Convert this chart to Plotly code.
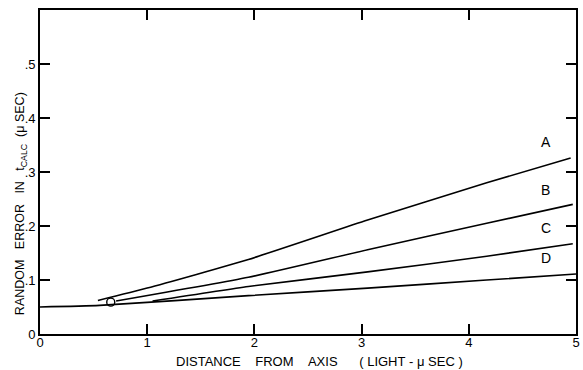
import plotly.graph_objects as go

# Curve data (distance from axis in light-µsec, random error in µsec)
A_x = [0.54, 1.0, 1.944, 3.056, 4.167, 4.95]
A_y = [0.062, 0.085, 0.138, 0.211, 0.280, 0.326]
B_x = [0.71, 1.944, 3.056, 4.167, 4.97]
B_y = [0.061, 0.105, 0.156, 0.205, 0.240]
C_x = [1.05, 1.944, 3.056, 4.167, 4.97]
C_y = [0.061, 0.088, 0.115, 0.144, 0.167]
D_x = [0.0, 0.556, 1.944, 3.056, 4.167, 5.0]
D_y = [0.050, 0.053, 0.071, 0.085, 0.100, 0.111]
circle_x = [0.66]
circle_y = [0.059]

labels = ["A", "B", "C", "D"]
label_x = [4.72, 4.72, 4.72, 4.72]
label_y = [0.337, 0.249, 0.178, 0.122]

x_ticks = [0, 1, 2, 3, 4, 5]
x_ticktext = ["0", "1", "2", "3", "4", "5"]
y_ticks = [0, 0.1, 0.2, 0.3, 0.4, 0.5]
y_ticktext = ["0", ".1", ".2", ".3", ".4", ".5"]

FONT = "Liberation Sans, Arial, sans-serif"

# plot area in pixels (for placing titles in paper coordinates)
L, R, T, B = 40, 580, 10, 334
W, H = 583, 370


def px_to_paper(px, py):
    return (px - L) / (R - L), (B - py) / (B - T)


fig = go.Figure()
for xs, ys in [(A_x, A_y), (B_x, B_y), (C_x, C_y), (D_x, D_y)]:
    fig.add_trace(go.Scatter(x=xs, y=ys, mode="lines",
                             line=dict(color="black", width=1.6, shape="spline", smoothing=0.5),
                             showlegend=False, hoverinfo="skip"))
fig.add_trace(go.Scatter(x=circle_x, y=circle_y, mode="markers",
                         marker=dict(symbol="circle-open", size=8, color="black", line=dict(width=1.4)),
                         showlegend=False, hoverinfo="skip"))

for t, lx, ly in zip(labels, label_x, label_y):
    fig.add_annotation(x=lx, y=ly, text=t, showarrow=False, xref="x", yref="y",
                       font=dict(family=FONT, size=14, color="black"), yanchor="bottom")

sp = "&nbsp;"
xt_x, xt_y = px_to_paper(322, 361)
fig.add_annotation(
    x=xt_x, y=xt_y, xref="paper", yref="paper", showarrow=False,
    text=f"DISTANCE{sp*4}FROM{sp*4}AXIS{sp*6}({sp}LIGHT{sp}-{sp}μ{sp}SEC{sp})",
    font=dict(family=FONT, size=13, color="black"), xanchor="center", yanchor="middle")
yt_x, yt_y = px_to_paper(21, 204)
fig.add_annotation(
    x=yt_x, y=yt_y, xref="paper", yref="paper", showarrow=False, textangle=-90,
    text=f"RANDOM{sp*3}ERROR{sp*3}IN{sp*3}t<sub>CALC</sub>{sp*2}(μ{sp}SEC)",
    font=dict(family=FONT, size=12.5, color="black"), xanchor="center", yanchor="middle")

fig.update_layout(
    width=W, height=H,
    margin=dict(l=L, r=W - R, t=T, b=H - B),
    paper_bgcolor="white", plot_bgcolor="white",
    font=dict(family=FONT, size=12, color="black"),
    xaxis=dict(range=[0, 5], tickvals=x_ticks, ticktext=x_ticktext, ticks="inside", ticklen=10,
               tickwidth=1.5, tickcolor="black", showline=True, linecolor="black", linewidth=1.6,
               mirror="ticks", showgrid=False, zeroline=False, tickfont=dict(size=13),
               ticklabelstandoff=-4),
    yaxis=dict(range=[0, 0.6], tickvals=y_ticks, ticktext=y_ticktext, ticks="inside", ticklen=10,
               tickwidth=1.5, tickcolor="black", showline=True, linecolor="black", linewidth=1.6,
               mirror="ticks", showgrid=False, zeroline=False, tickfont=dict(size=13)),
)

fig.write_html("out.html")
